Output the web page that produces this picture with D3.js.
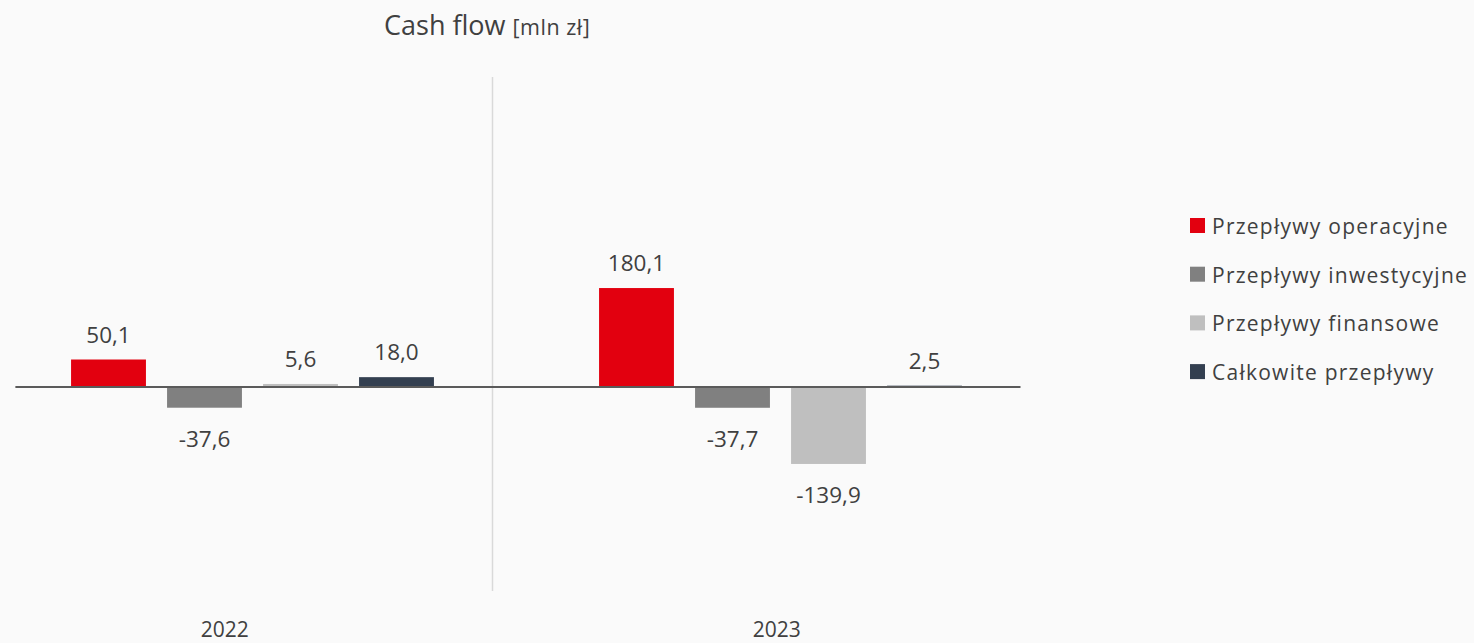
<!DOCTYPE html>
<html>
<head>
<meta charset="utf-8">
<script src="https://cdn.jsdelivr.net/npm/d3@7"></script>
<style>
  html, body { margin: 0; padding: 0; background: #fafafa; }
  svg { display: block; font-family: "Open Sans", sans-serif; }
</style>
</head>
<body>
<svg id="chart" width="1474" height="643"></svg>
<script>
// Cash flow figures, mln zł
const years = ["2022", "2023"];
const series = ["Przepływy operacyjne", "Przepływy inwestycyjne", "Przepływy finansowe", "Całkowite przepływy"];
const colors = ["#e2000f", "#808080", "#bfbfbf", "#333f50"];
const values2022 = [50.1, -37.6, 5.6, 18.0];
const values2023 = [180.1, -37.7, -139.9, 2.5];
const valuesByYear = [values2022, values2023];

const svg = d3.select("#chart");
const textColor = "#404040";

// Horizontal layout in "slot" units: each bar takes one slot, the second year starts 5.5 slots later
const groupStart = [0, 5.5];
const x = d3.scaleLinear().domain([-1, 9.5]).range([12.5, 1020.5]);
const slotPx = x(1) - x(0);
const barW = slotPx * 0.78;

const y = d3.scaleLinear().domain([-371, 564]).range([591, 77]);

const fmt = v => d3.format(".1f")(v).replace(".", ",").replace("−", "-");

// Title
const title = svg.append("text")
  .attr("x", 384).attr("y", 35)
  .attr("fill", textColor)
  .style("font-size", "27px");
title.append("tspan").text("Cash flow ");
title.append("tspan").style("font-size", "21.5px").style("letter-spacing", "0.5px").text("[mln zł]");

// Vertical separator between years
svg.append("line")
  .attr("x1", x(4)).attr("x2", x(4))
  .attr("y1", y.range()[1]).attr("y2", y.range()[0])
  .attr("stroke", "#d9d9d9").attr("stroke-width", 1.5);

// Bars
const bars = [];
years.forEach((yr, gi) => {
  valuesByYear[gi].forEach((v, si) => {
    bars.push({ year: yr, series: si, value: v, slot: groupStart[gi] + si });
  });
});

svg.append("g").selectAll("rect")
  .data(bars)
  .join("rect")
  .attr("x", d => x(d.slot) - barW / 2)
  .attr("width", barW)
  .attr("y", d => y(Math.max(0, d.value)))
  .attr("height", d => Math.max(1, Math.abs(y(d.value) - y(0))))
  .attr("fill", d => colors[d.series]);

// Zero axis line
svg.append("line")
  .attr("x1", x(-0.97)).attr("x2", x(9.5))
  .attr("y1", y(0)).attr("y2", y(0))
  .attr("stroke", "#5a5a5a").attr("stroke-width", 2);

// Value labels
svg.append("g").selectAll("text")
  .data(bars)
  .join("text")
  .attr("x", d => x(d.slot))
  .attr("y", d => d.value >= 0 ? y(d.value) - 17 : y(d.value) + 39.5)
  .attr("text-anchor", "middle")
  .attr("fill", textColor)
  .style("font-size", "22.5px")
  .text(d => fmt(d.value));

// Category labels under the plot
const yearLabelSlot = [1.21, 6.96];
svg.append("g").selectAll("text")
  .data(years)
  .join("text")
  .attr("x", (d, i) => x(yearLabelSlot[i]))
  .attr("y", 636.5)
  .attr("text-anchor", "middle")
  .attr("fill", textColor)
  .style("font-size", "21px")
  .text(d => d);

// Legend
const legend = svg.append("g").attr("transform", "translate(1190,218)");
const item = legend.selectAll("g")
  .data(series)
  .join("g")
  .attr("transform", (d, i) => `translate(0,${i * 48.7})`);
item.append("rect")
  .attr("width", 15).attr("height", 15)
  .attr("fill", (d, i) => colors[i]);
item.append("text")
  .attr("x", 22).attr("y", 16)
  .attr("fill", textColor)
  .style("font-size", "21px")
  .style("letter-spacing", "1.25px")
  .text(d => d);
</script>
</body>
</html>
